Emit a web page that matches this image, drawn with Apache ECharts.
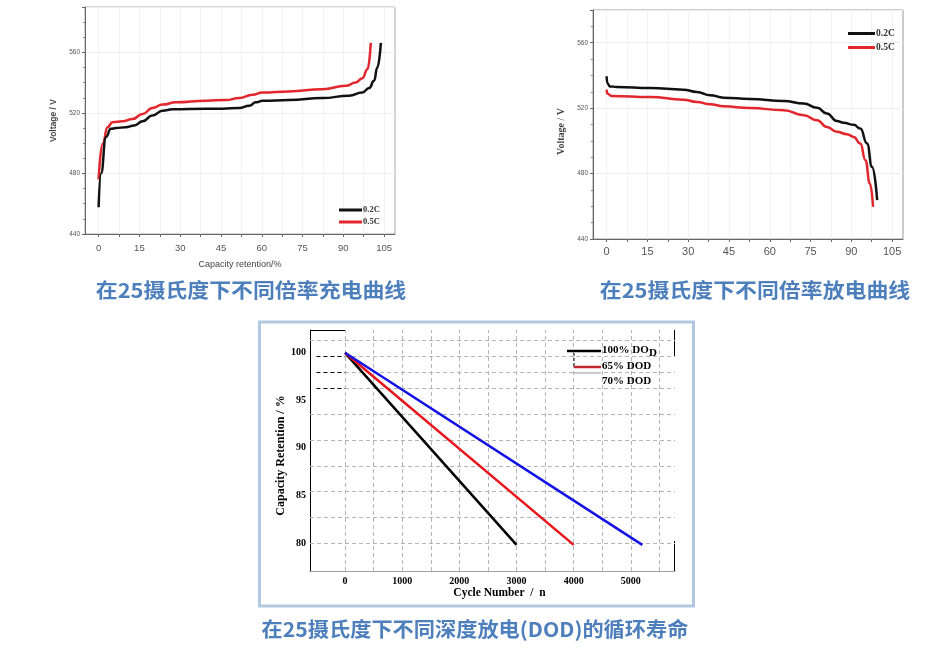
<!DOCTYPE html>
<html><head><meta charset="utf-8">
<script src="https://cdn.jsdelivr.net/npm/echarts@6/dist/echarts.min.js"></script>
<style>html,body{margin:0;padding:0;background:#fff}#c{width:930px;height:650px}</style>
</head><body><div id="c"></div><script>
// ---- Chart 1: charging curves ----
const chargeX02 = [0,0.9,2.7,4.5,6.4,10,13.1,16.2,19.8,23.5,27.2,33.3,45.6,51.7,55.4,57.8,60.3,70,82.3,92.1,97,99.5,101.3,102.5,103.8];
const chargeY02 = [457.7,480,504,509.5,510,510.6,511.7,514.5,518.3,521.5,522.4,522.6,522.8,523.3,524.8,527,528,528.5,529.8,531.4,533.5,536.4,541.2,550,566.3];
const chargeX05 = [0,1.5,3.3,5.1,8.8,12.5,16.2,19.8,23.5,28.4,39.5,46.8,51.7,56.6,60.3,70,82.3,90.9,94.6,97,98.9,100.1];
const chargeY05 = [476,499.7,510.6,513.9,514.5,516,519.3,523.3,525.5,527,528.1,528.5,529.8,532,533.5,534.2,535.7,537.9,540.1,543,548.9,566.3];
// ---- Chart 2: discharge curves ----
const disX02 = [0,0.25,1.2,3.7,16,28.2,33.2,38.1,43,52.8,65.1,72.5,77.4,81,84.7,87.2,90.9,93.3,95.8,97.6,99.5];
const disY02 = [539.5,535.4,533.3,533,532.3,531.3,529.9,527.9,526.4,525.6,524.4,522.8,520.3,516.7,512.2,511,509.8,507.5,498.4,484.1,463.8];
const disX05 = [0,0.25,1.8,16,28.2,33.2,38.1,43,52.8,65.1,72.5,77.4,81,84.7,88.4,90.9,93.3,95.2,96.8,98];
const disY05 = [531.3,528.9,527.5,526.8,525.2,523.8,522.4,521.1,520.1,518.7,515.7,512.6,508.5,505.5,504.1,502.4,498.4,488.2,474,459.7];
const rateNames = ['0.2C','0.5C'];
const capTickLabels = [0,15,30,45,60,75,90,105];
const capTicks = [0,7.5,15,22.5,30,37.5,45,52.5,60,67.5,75,82.5,90,97.5,105];
// ---- Chart 3: cycle life ----
const cycX100 = [0,3000]; const cycY100 = [100,79.8];
const cycX85 = [0,4000];  const cycY85 = [100,79.8];
const cycX70 = [0,5200];  const cycY70 = [100,79.8];
const cycleTickLabels = [0,1000,2000,3000,4000,5000];
const retentionTickLabels = [80,85,90,95,100];
const cycleGridX = [0,500,1000,1500,2000,2500,3000,3500,4000,4500,5000,5500];
const retentionGridY = [80,82.74,85.45,88.12,90.83,93.54];
const retentionGridYTop = [96.28,97.94,99.61];
const retentionGridYFull = [101.27];
const dodLegend = ['100% DO','D','65% DOD','70% DOD'];
const captions = ['在25摄氏度下不同倍率充电曲线','在25摄氏度下不同倍率放电曲线','在25摄氏度下不同深度放电(DOD)的循环寿命'];

const zip = (a,b) => a.map((v,i)=>[v,b[i]]);
const X3MIN = -613, X3MAX = 5772;

const sans = 'Liberation Sans';
const serif = 'Liberation Serif';

function topX(gi){
  return {
    type:'value', gridIndex:gi, min:-5, max:109,
    axisLine:{onZero:false, lineStyle:{color:'#666', width:1}},
    axisTick:{show:true, inside:false, length:3, customValues:capTicks, lineStyle:{color:'#666'}},
    axisLabel:{customValues:capTickLabels, fontFamily:sans, fontSize: gi===0?9.5:11, color:'#555', margin: gi===0?9:7},
    splitLine:{show:true, lineStyle:{color:'#f2f2f2', width:1}}
  };
}
function topY(gi, max){
  return {
    type:'value', gridIndex:gi, min:440, max:max, interval:40,
    axisLine:{show:true, onZero:false, lineStyle:{color:'#666', width:1}},
    axisTick:{show:true, inside:false, length:3, lineStyle:{color:'#666'}},
    minorTick:{show:true, splitNumber:4, length:2, lineStyle:{color:'#888'}},
    axisLabel:{fontFamily:sans, fontSize:6.5, color:'#555', margin:5, showMaxLabel:false},
    splitLine:{show:true, lineStyle:{color:'#eeeeee'}},
    minorSplitLine:{show:false}
  };
}

const gridDash = {type:[4,3], color:'#b4b4b4', width:1};
const markLineData = [];
cycleGridX.forEach(v=>markLineData.push({xAxis:v, lineStyle:gridDash}));
retentionGridY.forEach(v=>markLineData.push({yAxis:v, lineStyle:gridDash}));
retentionGridYFull.forEach(v=>markLineData.push({yAxis:v, lineStyle:gridDash}));
retentionGridYTop.forEach(v=>{
  markLineData.push([{coord:[0,v], lineStyle:gridDash},{coord:[X3MAX,v]}]);
  markLineData.push([{coord:[-500,v], lineStyle:{type:[4,3], color:'#000', width:1}},{coord:[0,v]}]);
});

const option = {
  animation:false,
  backgroundColor:'#fff',
  grid:[
    {left:85, top:7, width:310, height:227, show:true, borderColor:'#aaa', borderWidth:1},
    {left:593, top:10, width:310, height:229, show:true, borderColor:'#999', borderWidth:1},
    {left:310, top:330, width:365, height:241, show:false}
  ],
  xAxis:[
    Object.assign(topX(0), {name:'Capacity retention/%', nameLocation:'middle', nameGap:26,
      nameTextStyle:{fontFamily:sans, fontSize:9, color:'#444'}}),
    topX(1),
    {type:'value', gridIndex:2, min:X3MIN, max:X3MAX,
      axisLine:{onZero:false, lineStyle:{color:'#a0a0a0', width:1}},
      axisTick:{show:true, inside:true, length:4, customValues:cycleTickLabels, lineStyle:{color:'#000'}},
      axisLabel:{customValues:cycleTickLabels, formatter:v=>String(v), fontFamily:serif, fontWeight:'bold', fontSize:10, color:'#000', margin:5},
      splitLine:{show:false},
      name:'Cycle Number  /  n', nameLocation:'middle', nameGap:16,
      nameTextStyle:{fontFamily:serif, fontWeight:'bold', fontSize:11.5, color:'#000', padding:[0,0,0,14]}}
  ],
  yAxis:[
    Object.assign(topY(0,590), {name:'Voltage / V', nameLocation:'middle', nameGap:27,
      nameTextStyle:{fontFamily:sans, fontWeight:'bold', fontSize:8.5, color:'#444'}}),
    Object.assign(topY(1,580), {name:'Voltage / V', nameLocation:'middle', nameGap:27,
      nameTextStyle:{fontFamily:serif, fontWeight:'bold', fontSize:10, color:'#444', padding:[0,0,0,-14]}}),
    {type:'value', gridIndex:2, min:77.05, max:102.4,
      axisLine:{show:true, onZero:false, lineStyle:{color:'#000', width:1}},
      axisTick:{show:false},
      axisLabel:{customValues:retentionTickLabels, fontFamily:serif, fontWeight:'bold', fontSize:10, color:'#000', margin:4},
      splitLine:{show:false},
      name:'Capacity Retention / %', nameLocation:'middle', nameGap:23,
      nameTextStyle:{fontFamily:serif, fontWeight:'bold', fontSize:12, color:'#000', padding:[0,0,0,-10]}}
  ],
  legend:[
    {left:334, top:200, orient:'vertical', itemWidth:23, itemHeight:3, itemGap:2, icon:'rect',
      data:rateNames, textStyle:{fontFamily:serif, fontWeight:'bold', fontSize:8.5, color:'#333', lineHeight:10, padding:[0,0,0,-4]}},
    {left:843, top:23, orient:'vertical', itemWidth:27, itemHeight:3, itemGap:3, icon:'rect',
      data:rateNames, textStyle:{fontFamily:serif, fontWeight:'bold', fontSize:9.5, color:'#333', lineHeight:11, padding:[0,0,0,-4]}}
  ],
  series:[
    {name:'0.2C', type:'line', xAxisIndex:0, yAxisIndex:0, data:zip(chargeX02,chargeY02), smooth:0.5, smoothMonotone:'x', symbol:'none', lineStyle:{color:'#111', width:2.5}, itemStyle:{color:'#111'}, z:4},
    {name:'0.5C', type:'line', xAxisIndex:0, yAxisIndex:0, data:zip(chargeX05,chargeY05), smooth:0.5, smoothMonotone:'x', symbol:'none', lineStyle:{color:'#e3262c', width:2.5}, itemStyle:{color:'#e3262c'}, z:3},
    {name:'0.2C', type:'line', xAxisIndex:1, yAxisIndex:1, data:zip(disX02,disY02), smooth:0.5, smoothMonotone:'x', symbol:'none', lineStyle:{color:'#111', width:2.5}, itemStyle:{color:'#111'}, z:4},
    {name:'0.5C', type:'line', xAxisIndex:1, yAxisIndex:1, data:zip(disX05,disY05), smooth:0.5, smoothMonotone:'x', symbol:'none', lineStyle:{color:'#e3262c', width:2.5}, itemStyle:{color:'#e3262c'}, z:3},
    {name:'grid3', type:'line', xAxisIndex:2, yAxisIndex:2, data:[], symbol:'none', z:1, silent:true,
      markLine:{silent:true, symbol:['none','none'], label:{show:false}, emphasis:{disabled:true}, data:markLineData}},
    {name:'100% DOD', type:'line', xAxisIndex:2, yAxisIndex:2, data:zip(cycX100,cycY100), symbol:'none', lineStyle:{color:'#000', width:2.5}, z:5},
    {name:'85% DOD', type:'line', xAxisIndex:2, yAxisIndex:2, data:zip(cycX85,cycY85), symbol:'none', lineStyle:{color:'#e8141b', width:2.5}, z:5},
    {name:'70% DOD', type:'line', xAxisIndex:2, yAxisIndex:2, data:zip(cycX70,cycY70), symbol:'none', lineStyle:{color:'#1212e6', width:2.5}, z:5}
  ],
  graphic:[
    {type:'rect', shape:{x:259.5, y:322, width:434, height:284}, style:{fill:'none', stroke:'#b3c8e2', lineWidth:3}, z:0},
    {type:'line', shape:{x1:310, y1:330.5, x2:345, y2:330.5}, style:{stroke:'#000', lineWidth:1}},
    {type:'line', shape:{x1:674.5, y1:330, x2:674.5, y2:357}, style:{stroke:'#000', lineWidth:1}},
    {type:'line', shape:{x1:674.5, y1:541, x2:674.5, y2:571.5}, style:{stroke:'#000', lineWidth:1}},
    {type:'line', shape:{x1:660, y1:571.5, x2:675, y2:571.5}, style:{stroke:'#000', lineWidth:1}},
    {type:'line', shape:{x1:310, y1:571.5, x2:345, y2:571.5}, style:{stroke:'#000', lineWidth:1}},
    {type:'line', shape:{x1:567, y1:351, x2:601, y2:351}, style:{stroke:'#000', lineWidth:2.5}, z:10},
    {type:'line', shape:{x1:574, y1:353, x2:574, y2:366}, style:{stroke:'#000', lineWidth:1, lineDash:[3,2]}, z:10},
    {type:'line', shape:{x1:574, y1:367, x2:601, y2:367}, style:{stroke:'#c0262b', lineWidth:2.5}, z:10},
    {type:'line', shape:{x1:574, y1:373, x2:601, y2:373}, style:{stroke:'#c8c8c8', lineWidth:2}, z:10},
    {type:'text', x:602, y:350, style:{text:dodLegend[0], font:'bold 11px "Liberation Serif"', fill:'#000', verticalAlign:'middle'}, z:10},
    {type:'text', x:649, y:353, style:{text:dodLegend[1], font:'bold 11px "Liberation Serif"', fill:'#000', verticalAlign:'middle'}, z:10},
    {type:'text', x:602, y:366, style:{text:dodLegend[2], font:'bold 11px "Liberation Serif"', fill:'#000', verticalAlign:'middle'}, z:10},
    {type:'text', x:602, y:381, style:{text:dodLegend[3], font:'bold 11px "Liberation Serif"', fill:'#000', verticalAlign:'middle'}, z:10},
    {type:'text', x:251, y:290, scaleX:1.095, style:{text:captions[0], font:'bold 20px "Noto Sans CJK SC"', fill:'#4e7fbd', align:'center', verticalAlign:'middle'}},
    {type:'text', x:755, y:290, scaleX:1.095, style:{text:captions[1], font:'bold 20px "Noto Sans CJK SC"', fill:'#4e7fbd', align:'center', verticalAlign:'middle'}},
    {type:'text', x:475, y:629, scaleX:1.06, style:{text:captions[2], font:'bold 20px "Noto Sans CJK SC"', fill:'#4e7fbd', align:'center', verticalAlign:'middle'}}
  ]
};
const chart = echarts.init(document.getElementById('c'), null, {renderer:'canvas'});
chart.setOption(option);
</script></body></html>
